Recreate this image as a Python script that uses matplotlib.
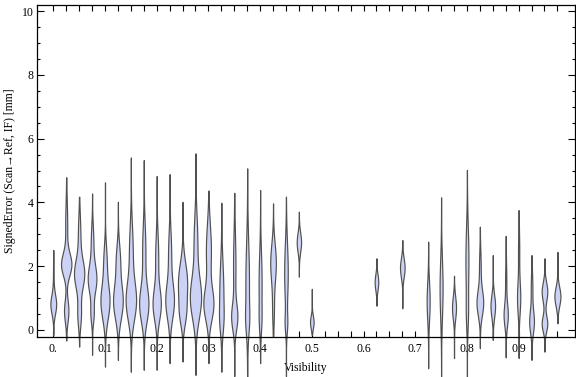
import numpy as np
import matplotlib
matplotlib.use("Agg")
import matplotlib.pyplot as plt
from matplotlib.ticker import FixedLocator, MultipleLocator

# ---- data ----
visibility = [0.0, 0.025, 0.05, 0.075, 0.1, 0.125, 0.15, 0.175, 0.2, 0.225,
              0.25, 0.275, 0.3, 0.325, 0.35, 0.375, 0.4, 0.425, 0.45, 0.475,
              0.5, 0.625, 0.675, 0.725, 0.75, 0.775, 0.8, 0.825, 0.85, 0.875,
              0.9, 0.925, 0.95, 0.975]
err_min = [-0.16, -0.33, -0.52, -0.78, -1.15, -0.94, -1.31, -1.25, -1.25, -1.04,
           -0.99, -1.41, -1.04, -1.31, -1.45, -1.47, -1.04, -0.21, -1.45, 1.67,
           -0.15, 0.76, 0.68, -1.2, -1.5, -0.88, -1.46, -0.57, -0.31, -0.86,
           -0.88, -0.94, -0.68, 0.21]
err_max = [2.51, 4.79, 4.18, 4.28, 4.63, 4.02, 5.41, 5.33, 4.83, 4.89,
           4.02, 5.54, 4.37, 3.99, 4.3, 5.07, 4.39, 3.97, 4.18, 3.71,
           1.29, 2.25, 2.82, 2.77, 4.16, 1.70, 5.02, 3.24, 2.35, 2.95,
           3.76, 2.35, 2.25, 2.45]
# density modes per distribution: (centre, spread, relative density)
err_modes = [
    [(0.8, 0.3, 2.8), (1.6, 0.5, 0.3)],
    [(2.05, 0.35, 5.0), (0.6, 0.35, 2.2), (3.3, 0.7, 1.0)],
    [(1.75, 0.45, 5.0), (0.5, 0.4, 1.8), (3.0, 0.6, 1.2)],
    [(1.6, 0.45, 4.3), (0.5, 0.3, 1.5), (2.8, 0.5, 1.2)],
    [(0.9, 0.55, 4.5), (2.2, 0.5, 1.5)],
    [(0.9, 0.55, 4.8), (2.2, 0.5, 2.0)],
    [(0.9, 0.6, 5.0), (2.5, 0.8, 1.8)],
    [(0.8, 0.55, 4.5), (2.5, 0.8, 1.6)],
    [(0.8, 0.5, 4.0), (2.3, 0.7, 1.5)],
    [(0.9, 0.55, 4.2), (2.4, 0.7, 1.5)],
    [(1.5, 0.6, 4.5), (0.5, 0.4, 2.5)],
    [(1.0, 0.65, 5.5), (2.8, 0.8, 1.8)],
    [(0.8, 0.5, 4.8), (2.5, 0.8, 2.5)],
    [(1.2, 0.9, 2.0), (0.3, 0.4, 1.0)],
    [(0.4, 0.4, 2.8), (2.0, 1.0, 1.2)],
    [(1.5, 1.2, 1.8), (0.3, 0.4, 1.0)],
    [(1.5, 0.9, 1.5), (0.3, 0.4, 0.8)],
    [(2.1, 0.6, 2.8), (0.6, 0.5, 0.8)],
    [(1.8, 0.9, 1.8), (0.2, 0.3, 1.0)],
    [(2.75, 0.3, 2.2)],
    [(0.25, 0.2, 1.8)],
    [(1.5, 0.25, 1.8)],
    [(1.95, 0.3, 2.3)],
    [(0.9, 0.6, 1.5)],
    [(1.3, 0.9, 1.5)],
    [(0.7, 0.35, 2.0)],
    [(2.2, 1.0, 1.5), (0.5, 0.5, 0.8)],
    [(0.85, 0.4, 3.3), (2.0, 0.5, 0.8)],
    [(0.75, 0.35, 2.3)],
    [(0.45, 0.35, 2.0), (1.5, 0.6, 0.6)],
    [(1.0, 0.5, 1.6), (2.5, 0.6, 0.6)],
    [(0.25, 0.35, 2.3), (1.3, 0.5, 0.8)],
    [(1.2, 0.3, 2.8), (0.2, 0.25, 2.8)],
    [(1.05, 0.3, 3.0)],
]
tick_positions = [i * 0.025 for i in range(40)]
tick_labels = ["0." if i == 0 else ("%.1f" % (i * 0.025) if i % 4 == 0 else "") for i in range(40)]

# ---- figure ----
plt.rcParams['font.family'] = ['Liberation Serif', 'DejaVu Serif']
fig = plt.figure(figsize=(5.76, 3.77), dpi=100)
ax = fig.add_axes([37 / 576, 40 / 377, 538 / 576, 332.3 / 377])

WIDTH_SCALE = 0.00193  # half-width in x units per density unit
fill_c = '#cbd2f6'
edge_c = '#505050'
for x, lo, hi, modes in zip(visibility, err_min, err_max, err_modes):
    y = np.linspace(lo, hi, 400)
    d = np.zeros_like(y)
    for c, s, w in modes:
        d += w * np.exp(-0.5 * ((y - c) / s) ** 2)
    half = d * WIDTH_SCALE
    ax.fill_betweenx(y, x - half, x + half, facecolor=fill_c, edgecolor=edge_c,
                     linewidth=0.85, clip_on=False, zorder=2)

ax.set_xlim(-0.0315, 1.009)
ax.set_ylim(-0.22, 10.2)

ax.xaxis.set_major_locator(FixedLocator(tick_positions))
ax.set_xticklabels(tick_labels)
ax.yaxis.set_major_locator(MultipleLocator(2))
ax.yaxis.set_minor_locator(MultipleLocator(0.5))
ax.tick_params(axis='both', which='both', direction='in', top=True, right=True,
               labelsize=8.5, width=0.8, color='black')
ax.tick_params(axis='x', which='major', length=4, pad=4)
ax.tick_params(axis='y', which='major', length=5, pad=2.5)
ax.tick_params(axis='y', which='minor', length=2.5)
for sp in ax.spines.values():
    sp.set_linewidth(0.9)

ax.set_xlabel('Visibility', fontsize=8.5, labelpad=5)
ax.set_ylabel('SignedError (Scan→Ref, IF) [mm]', fontsize=8.5, labelpad=4)

fig.savefig('out.png', dpi=100)
